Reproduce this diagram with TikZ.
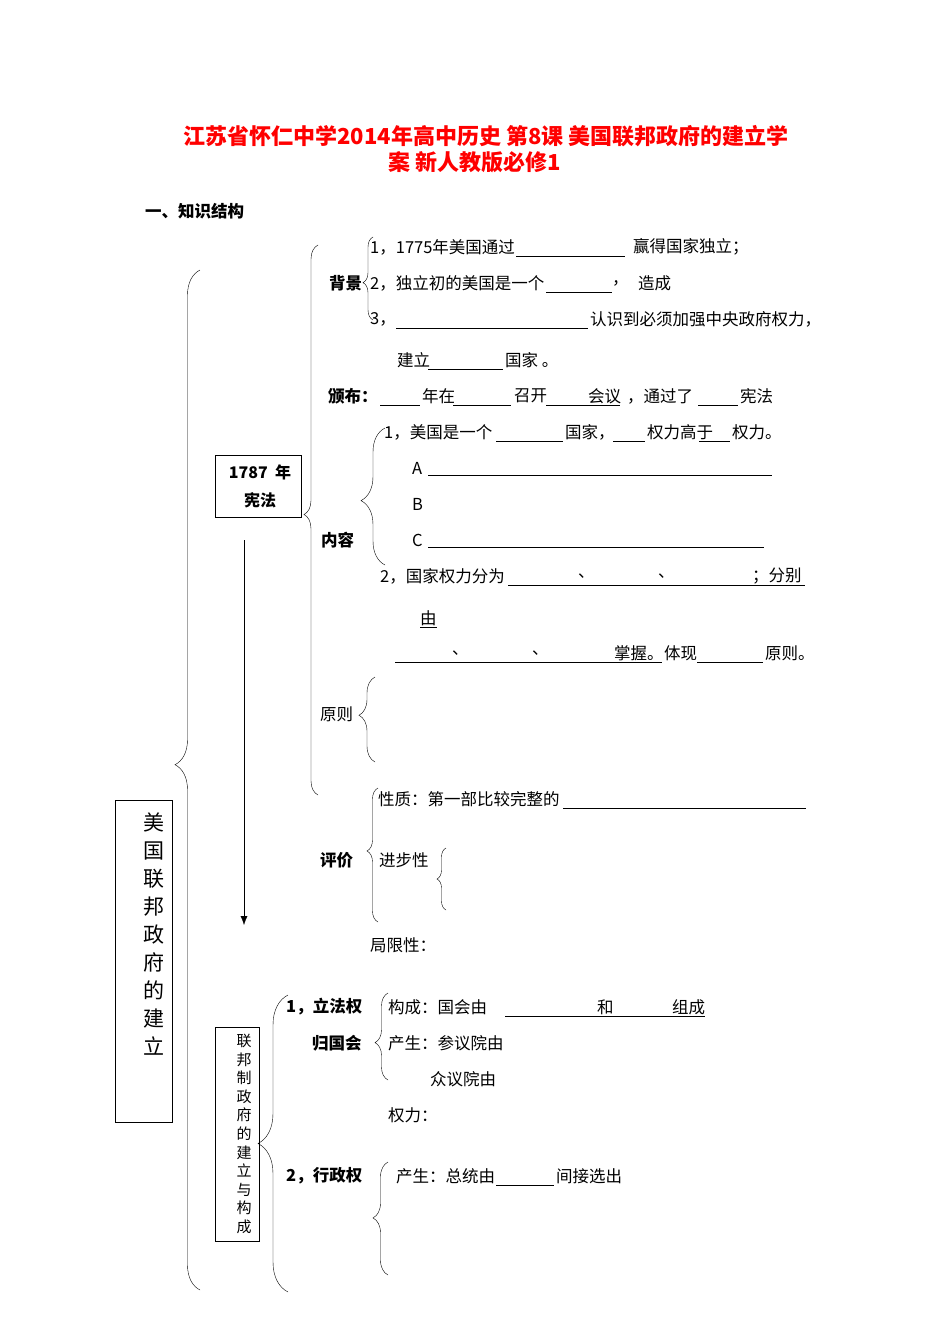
\documentclass[tikz,border=0pt]{standalone}
\usepackage{fontspec}
\setmainfont{Noto Sans CJK SC}
\usetikzlibrary{decorations.pathreplacing,arrows.meta}
\newcommand{\brc}[5]{\draw[decorate,decoration={brace,amplitude=#4,aspect=#5}] (#1,#3) -- (#1,#2);}
\newcommand{\ulin}[3]{\draw[thin] (#1,#3+9) -- (#2,#3+9);}
\begin{document}
\begin{tikzpicture}[x=1pt,y=-1pt,
  t/.style={anchor=west,inner sep=0pt,font=\fontsize{16.5}{18}\selectfont},
  tb/.style={t,font=\fontsize{16.5}{18}\selectfont\bfseries},
  box/.style={draw,line width=0.8pt,inner sep=0pt}]
\useasboundingbox (0,0) rectangle (950,1344);
% title
\node[text=red,font=\fontsize{22}{25}\selectfont\bfseries] (ti1) at (486,136) {江苏省怀仁中学2014年高中历史 第8课 美国联邦政府的建立学};
\node[text=red,font=\fontsize{22}{25}\selectfont\bfseries] (ti2) at (475,162) {案 新人教版必修1};
\node[tb] (h1) at (145,211) {一、知识结构};
% big brace and main box
\brc{200}{270}{1290}{25pt}{0.515}
\draw[box] (115,800) rectangle (172,1122);
\node[font=\fontsize{21}{28}\selectfont,align=center] (mb) at (154,934) {美\\国\\联\\邦\\政\\府\\的\\建\\立};
% 1787 box
\draw[box] (215,455) rectangle (301,517);
\node[font=\fontsize{16}{28}\selectfont\bfseries,align=center] (xf) at (260,486) {1787\ \ 年\\宪法};
\coordinate (a1) at (244,540); \coordinate (a2) at (244,925);
\draw[-{Latex[length=9pt,width=7pt]}] (a1) -- (a2);
\brc{318}{245}{795}{14pt}{0.51}
% 背景
\node[tb] (bj) at (329,283) {背景};
\brc{373}{237}{320}{10pt}{0.45}
\node[t] (b1) at (370,247) {1，1775年美国通过}; \ulin{516}{625}{247}
\node[t] at (633,247) {赢得国家独立；};
\node[t] (b2) at (370,283) {2，独立初的美国是一个}; \ulin{546}{612}{283}
\node[t] at (612,283) {，}; \node[t] at (638,283) {造成};
\node[t] (b3) at (370,319) {3，}; \ulin{396}{588}{319}
\node[t] at (590,319) {认识到必须加强中央政府权力，};
\node[t] at (397,360) {建立}; \ulin{428}{503}{360}
\node[t] at (505,360) {国家 。};
% 颁布
\node[tb] (bb) at (328,396) {颁布：};
\ulin{380}{420}{396}\node[t] at (422,396) {年在};
\ulin{453}{511}{396}\node[t] at (514,396) {召开};
\ulin{546}{620}{396}\node[t] at (588,396) {会议};
\node[t] at (627,396) {，通过了}; \ulin{698}{738}{396}\node[t] at (740,396) {宪法};
% 内容
\node[tb] (nr) at (321,540) {内容};
\brc{385}{428}{565}{24pt}{0.47}
\node[t] at (384,432) {1，美国是一个}; \ulin{496}{563}{432}
\node[t] at (565,432) {国家，}; \ulin{613}{645}{432}
\node[t] at (647,432) {权力高于}; \ulin{699}{730}{432}
\node[t] at (732,432) {权力。};
\node[t] at (412,468) {A}; \ulin{428}{772}{466}
\node[t] at (412,504) {B};
\node[t] at (412,540) {C}; \ulin{428}{764}{538}
\node[t] at (380,576) {2，国家权力分为}; \ulin{508}{805}{576}
\node[t] at (578,576) {、}; \node[t] at (658,576) {、}; \node[t] at (752,576) {；分别};
\node[t] at (420,618) {由}; \ulin{420}{437}{618}
\ulin{395}{662}{653}
\node[t] at (452,653) {、}; \node[t] at (532,653) {、}; \node[t] at (614,653) {掌握。};
\node[t] at (664,653) {体现}; \ulin{697}{763}{653}\node[t] at (765,653) {原则。};
% 原则
\node[t] (yz) at (320,714) {原则};
\brc{375}{677}{762}{16pt}{0.55}
% 评价
\node[tb] (pj) at (320,860) {评价};
\brc{378}{788}{922}{11pt}{0.53}
\node[t] at (378,799) {性质：第一部比较完整的}; \ulin{563}{806}{799}
\node[t] at (379,860) {进步性};
\brc{446}{848}{910}{9pt}{0.5}
\node[t] at (370,945) {局限性：};
% 联邦制 box
\draw[box] (215,1027) rectangle (259,1241);
\node[font=\fontsize{15}{18.6}\selectfont,align=center] (lb) at (244,1134) {联\\邦\\制\\政\\府\\的\\建\\立\\与\\构\\成};
\brc{288}{995}{1292}{30pt}{0.5}
\node[tb] (lf) at (286,1007) {1，立法权};
\node[tb] at (312,1043) {归国会};
\brc{388}{993}{1080}{13pt}{0.43}
\node[t] at (388,1007) {构成：国会由}; \ulin{505}{705}{1007}
\node[t] at (597,1007) {和}; \node[t] at (672,1007) {组成};
\node[t] at (388,1043) {产生：参议院由};
\node[t] at (430,1079) {众议院由};
\node[t] at (388,1115) {权力：};
\node[tb] (xz) at (286,1176) {2，行政权};
\brc{388}{1162}{1275}{15pt}{0.505}
\node[t] at (396,1176) {产生：总统由}; \ulin{496}{554}{1176}
\node[t] at (556,1176) {间接选出};
\end{tikzpicture}
\end{document}
